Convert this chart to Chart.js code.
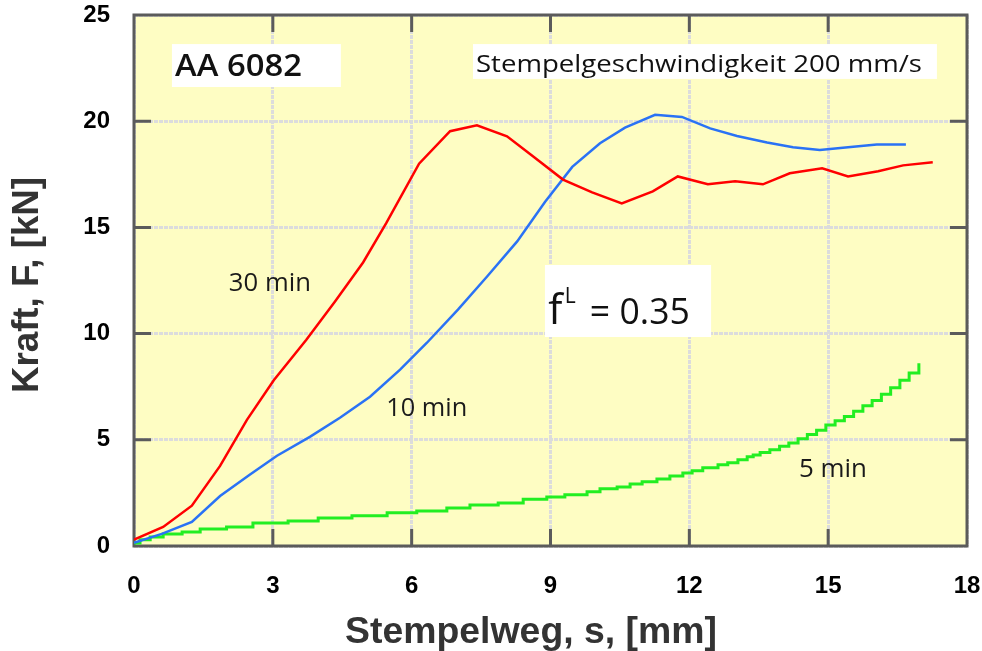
<!DOCTYPE html>
<html><head><meta charset="utf-8">
<script src="https://cdn.jsdelivr.net/npm/chart.js@4/dist/chart.umd.min.js"></script>
<style>html,body{margin:0;padding:0;background:#fff;}</style>
</head><body>
<canvas id="c" width="982" height="651"></canvas>
<script>
// ---- data ----
const xTicks = [0, 3, 6, 9, 12, 15, 18];
const yTicks = [0, 5, 10, 15, 20, 25];

const min30X = [0, 0.63, 1.25, 1.86, 2.44, 3.02, 3.72, 4.34, 4.95, 5.45, 6.16, 6.83, 7.41, 8.06, 8.62, 9.27, 9.9, 10.54, 11.21, 11.75, 12.4, 12.99, 13.59, 14.17, 14.87, 15.43, 16.08, 16.62, 17.26];
const min30Y = [0.3, 0.9, 1.9, 3.77, 5.94, 7.8, 9.7, 11.5, 13.35, 15.2, 18.0, 19.53, 19.81, 19.29, 18.35, 17.25, 16.65, 16.13, 16.7, 17.4, 17.03, 17.17, 17.03, 17.55, 17.78, 17.4, 17.64, 17.92, 18.07];

const min10X = [0, 0.6, 1.25, 1.86, 2.5, 3.09, 3.8, 4.45, 5.1, 5.75, 6.33, 7.0, 7.63, 8.28, 8.88, 9.47, 10.07, 10.61, 11.26, 11.84, 12.45, 13.03, 13.68, 14.24, 14.82, 15.43, 16.05, 16.68];
const min10Y = [0.15, 0.57, 1.13, 2.35, 3.35, 4.25, 5.14, 6.04, 7.03, 8.3, 9.57, 11.13, 12.69, 14.34, 16.2, 17.85, 18.96, 19.7, 20.3, 20.2, 19.66, 19.3, 19.0, 18.77, 18.65, 18.77, 18.9, 18.9];

const min5X = [0, 0.13, 0.35, 0.63, 1.04, 1.43, 2.0, 2.57, 3.33, 3.98, 4.71, 5.47, 6.11, 6.76, 7.26, 7.87, 8.41, 8.92, 9.31, 9.79, 10.07, 10.44, 10.72, 10.98, 11.3, 11.58, 11.86, 12.06, 12.29, 12.62, 12.83, 13.05, 13.25, 13.38, 13.53, 13.74, 13.95, 14.15, 14.35, 14.55, 14.75, 14.95, 15.15, 15.35, 15.55, 15.75, 15.95, 16.15, 16.35, 16.55, 16.75, 16.96];
const min5Y = [0.14, 0.3, 0.42, 0.57, 0.66, 0.8, 0.9, 1.08, 1.18, 1.32, 1.42, 1.56, 1.65, 1.79, 1.93, 2.03, 2.2, 2.31, 2.41, 2.55, 2.69, 2.78, 2.92, 3.02, 3.16, 3.3, 3.44, 3.54, 3.68, 3.82, 3.92, 4.06, 4.2, 4.29, 4.4, 4.53, 4.7, 4.85, 5.05, 5.25, 5.45, 5.7, 5.9, 6.1, 6.35, 6.6, 6.85, 7.15, 7.45, 7.8, 8.15, 8.6];

const seriesLabels = ['30 min', '10 min', '5 min'];
const xTitle = 'Stempelweg, s, [mm]';
const yTitle = 'Kraft, F, [kN]';

const pts = (xs, ys) => xs.map((x, i) => ({x, y: ys[i]}));

function drawFit(ctx, text, x, y, font, targetW, rot) {
  ctx.font = font;
  const w = ctx.measureText(text).width;
  const s = targetW ? targetW / w : 1;
  ctx.save();
  ctx.translate(x, y);
  if (rot) ctx.rotate(rot);
  ctx.scale(s, 1);
  ctx.fillText(text, 0, 0);
  ctx.restore();
}

const zeroPad = s => { s.paddingTop = 0; s.paddingBottom = 0; s.paddingLeft = 0; s.paddingRight = 0; };
const BOLD = '"Liberation Sans", Arial, sans-serif';

const decor = {
  id: 'decor',
  beforeDraw(chart) {
    const {ctx, chartArea: a} = chart;
    ctx.save();
    ctx.fillStyle = '#FEFDC3';
    ctx.fillRect(a.left, a.top, a.width, a.height);
    ctx.restore();
  },
  beforeDatasetsDraw(chart) {
    const {ctx, chartArea: a, scales} = chart;
    ctx.save();
    ctx.strokeStyle = '#5b5b5b';
    ctx.lineWidth = 3;
    ctx.strokeRect(a.left, a.top, a.width, a.height);
    const tl = 17;
    ctx.beginPath();
    xTicks.slice(1, -1).forEach(v => {
      const px = scales.x.getPixelForValue(v);
      ctx.moveTo(px, a.bottom); ctx.lineTo(px, a.bottom - tl);
      ctx.moveTo(px, a.top); ctx.lineTo(px, a.top + tl);
    });
    yTicks.slice(1, -1).forEach(v => {
      const py = scales.y.getPixelForValue(v);
      ctx.moveTo(a.left, py); ctx.lineTo(a.left + tl, py);
      ctx.moveTo(a.right, py); ctx.lineTo(a.right - tl, py);
    });
    ctx.stroke();
    ctx.restore();
  },
  afterDatasetsDraw(chart) {
    const {ctx, scales} = chart;
    const X = v => scales.x.getPixelForValue(v);
    const Y = v => scales.y.getPixelForValue(v);
    const box = (x0, x1, y0, y1) => {
      ctx.fillStyle = '#ffffff';
      ctx.fillRect(X(x0), Y(y0), X(x1) - X(x0), Y(y1) - Y(y0));
    };
    ctx.save();
    ctx.textBaseline = 'alphabetic';
    ctx.textAlign = 'left';
    box(0.82, 4.47, 23.63, 21.61);
    box(7.325, 17.35, 23.63, 21.99);
    box(8.88, 12.47, 13.23, 9.84);
    ctx.fillStyle = '#111111';
    drawFit(ctx, 'AA 6082', X(0.886), Y(22.13), '600 30px "Open Sans"', 127);
    drawFit(ctx, 'Stempelgeschwindigkeit 200 mm/s', X(7.39), Y(22.32), '400 24px "Open Sans"', 446);
    drawFit(ctx, 'f', X(8.95), Y(10.45), '400 42px "Open Sans"', 0);
    drawFit(ctx, 'L', X(9.31), Y(11.44), '400 21px "Open Sans"', 0);
    drawFit(ctx, '= 0.35', X(9.85), Y(10.45), '400 36px "Open Sans"', 100);
    ctx.fillStyle = '#1a1a1a';
    drawFit(ctx, seriesLabels[0], X(2.05), Y(12.0), '400 25px "Open Sans"', 82);
    drawFit(ctx, seriesLabels[1], X(5.45), Y(6.12), '400 25px "Open Sans"', 81);
    drawFit(ctx, seriesLabels[2], X(14.37), Y(3.25), '400 25px "Open Sans"', 68);
    // axis titles
    ctx.fillStyle = '#333333';
    ctx.textAlign = 'center';
    drawFit(ctx, xTitle, 531, 643, 'bold 37px ' + BOLD, 372);
    drawFit(ctx, yTitle, 38, 285, 'bold 36px ' + BOLD, 216, -Math.PI / 2);
    ctx.restore();
  }
};

new Chart(document.getElementById('c'), {
  type: 'line',
  data: {
    datasets: [
      {label: seriesLabels[0], data: pts(min30X, min30Y), borderColor: '#ff0000', borderWidth: 2.5, pointRadius: 0, tension: 0},
      {label: seriesLabels[1], data: pts(min10X, min10Y), borderColor: '#2a72f5', borderWidth: 2.5, pointRadius: 0, tension: 0},
      {label: seriesLabels[2], data: pts(min5X, min5Y), borderColor: '#22ee22', borderWidth: 3, pointRadius: 0, stepped: true}
    ]
  },
  options: {
    responsive: false,
    animation: false,
    devicePixelRatio: 1,
    layout: {padding: {left: 0, right: 15, top: 15, bottom: 0}},
    plugins: {legend: {display: false}, tooltip: {enabled: false}},
    scales: {
      x: {
        type: 'linear', min: 0, max: 18,
        afterBuildTicks: s => { s.ticks = xTicks.map(v => ({value: v})); },
        afterFit: s => { s.height = 105; zeroPad(s); },
        ticks: {color: '#000', font: {family: BOLD, size: 24, weight: 'bold'}, padding: 26, maxRotation: 0},
        grid: {color: '#dcdcdc', lineWidth: 3, drawTicks: false},
        border: {display: false, dash: [4, 1]},
        title: {display: false, text: xTitle}
      },
      y: {
        type: 'linear', min: 0, max: 25,
        afterBuildTicks: s => { s.ticks = yTicks.map(v => ({value: v})); },
        afterFit: s => { s.width = 134; zeroPad(s); },
        ticks: {color: '#000', font: {family: BOLD, size: 24, weight: 'bold'}, padding: 24},
        grid: {color: '#dcdcdc', lineWidth: 3, drawTicks: false},
        border: {display: false, dash: [4, 1]},
        title: {display: false, text: yTitle}
      }
    }
  },
  plugins: [decor]
});
</script>
</body></html>
